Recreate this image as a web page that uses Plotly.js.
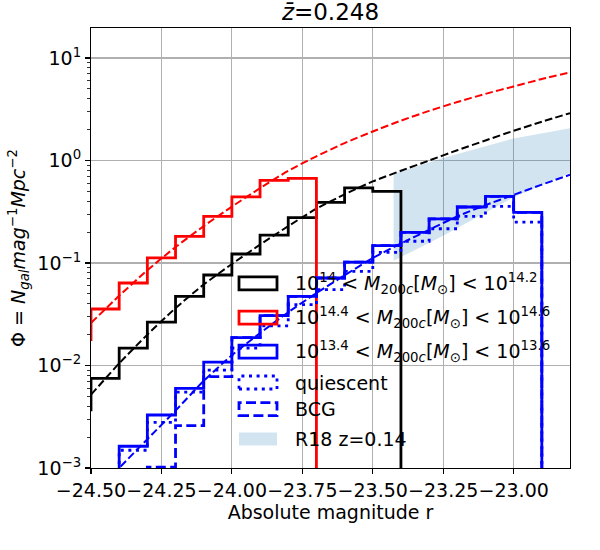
<!DOCTYPE html>
<html>
<head>
<meta charset="utf-8">
<script src="https://cdn.plot.ly/plotly-3.0.1.min.js"></script>
<style>body{margin:0;background:#fff}</style>
</head>
<body>
<div id="chart" style="width:600px;height:550px"></div>
<script>
// bin width of all histograms (mag)
const binWidth = 0.1;

// step histograms: left edge of first bin + one value per bin
const blackStart = -24.6;
const blackVals = [0.0037, 0.00748, 0.0148, 0.0265, 0.0472, 0.0764, 0.1225, 0.1875, 0.2767, 0.390, 0.540, 0.500];
const redStart = -24.6;
const redVals = [0.0179, 0.0356, 0.0638, 0.112, 0.182, 0.285, 0.441, 0.640, 0.669];
const blueStart = -24.4;
const blueVals = [0.00163, 0.00329, 0.00598, 0.0108, 0.0187, 0.0306, 0.0472, 0.0714, 0.102, 0.148, 0.199, 0.270, 0.352, 0.447, 0.312];
const quiesStart = -24.4;
const quiesVals = [0.00149, 0.00279, 0.0055, 0.00903, 0.0148, 0.0244, 0.0392, 0.055, 0.0828, 0.127, 0.163, 0.216, 0.285, 0.357, 0.251];
const bcgStart = -24.3;
const bcgVals = [0.00102, 0.00259, 0.0078, 0.0187, 0.0306, 0.0472, 0.0714, 0.102, 0.148, 0.199, 0.270, 0.352, 0.447, 0.312];

// fitted curves
const fitMag = [-24.5, -24.4, -24.3, -24.2, -24.1, -24.0, -23.9, -23.8, -23.7, -23.6, -23.5, -23.4, -23.3, -23.2, -23.1, -23.0, -22.9, -22.8];
const redFit = [0.0260, 0.0479, 0.0851, 0.143, 0.229, 0.355, 0.537, 0.794, 1.10, 1.48, 1.92, 2.45, 3.05, 3.72, 4.47, 5.28, 6.24, 7.24];
const blackFit = [0.00519, 0.0105, 0.0200, 0.0363, 0.0617, 0.0977, 0.151, 0.229, 0.339, 0.468, 0.625, 0.794, 1.00, 1.26, 1.57, 1.95, 2.39, 2.90];
const blueFit = [0.0005, 0.00100, 0.00191, 0.00363, 0.00708, 0.0126, 0.0207, 0.0331, 0.0509, 0.0759, 0.112, 0.155, 0.211, 0.285, 0.367, 0.463, 0.582, 0.726];

// R18 z=0.14 band
const bandMag = [-23.426, -23.25, -23.0, -22.8];
const bandHi = [0.743, 1.06, 1.64, 2.07];
const bandLo = [0.105, 0.185, 0.437, 0.759];

const xTicks = [-24.5, -24.25, -24.0, -23.75, -23.5, -23.25, -23.0];
const yTicks = [0.001, 0.01, 0.1, 1, 10];
const yTickText = ['10<sup>−3</sup>', '10<sup>−2</sup>', '10<sup>−1</sup>', '10<sup>0</sup>', '10<sup>1</sup>'];

const FLOOR = 1e-6;   // baseline of the step outline (below the axis)

function stepTrace(start, vals, color, dash) {
  const xs = [start], ys = [FLOOR];
  vals.forEach((v, i) => {
    xs.push(Math.round((start + i * binWidth) * 10) / 10);
    ys.push(v);
  });
  const end = Math.round((start + vals.length * binWidth) * 10) / 10;
  xs.push(end); ys.push(vals[vals.length - 1]);
  xs.push(end); ys.push(FLOOR);
  return {
    x: xs, y: ys, type: 'scatter', mode: 'lines',
    line: { shape: 'hv', color: color, width: 2.8, dash: dash || 'solid' },
    hoverinfo: 'skip'
  };
}

function fitTrace(vals, color) {
  return {
    x: fitMag, y: vals, type: 'scatter', mode: 'lines',
    line: { shape: 'spline', smoothing: 0.6, color: color, width: 2, dash: '7.7px,3.3px' },
    hoverinfo: 'skip'
  };
}

const band = {
  x: bandMag.concat(bandMag.slice().reverse()),
  y: bandHi.concat(bandLo.slice().reverse()),
  type: 'scatter', mode: 'lines', fill: 'toself',
  fillcolor: 'rgba(31,119,180,0.2)', line: { width: 0 }, hoverinfo: 'skip'
};

const traces = [
  band,
  stepTrace(blackStart, blackVals, '#000000'),
  fitTrace(blackFit, '#000000'),
  stepTrace(redStart, redVals, '#ff0000'),
  fitTrace(redFit, '#ff0000'),
  stepTrace(blueStart, blueVals, '#0000ff'),
  stepTrace(quiesStart, quiesVals, '#0000ff', '3px,4.6px'),
  stepTrace(bcgStart, bcgVals, '#0000ff', '10px,4.4px'),
  fitTrace(blueFit, '#0000ff')
];

// hand-made legend (matplotlib style patches), positions in pixels
const plotL = 91, plotR = 570, plotT = 28, plotB = 468;
const px = (x) => (x - plotL) / (plotR - plotL);
const py = (y) => (plotB - y) / (plotB - plotT);
const mLabel = (a, b) => '10<sup>' + a + '</sup> &lt; <i>M</i><sub>200<i>c</i></sub>[<i>M</i><sub>⊙</sub>] &lt; 10<sup>' + b + '</sup>';
const legendRows = [
  { text: mLabel('14', '14.2'), color: '#000000', dash: 'solid', cy: 283.3 },
  { text: mLabel('14.4', '14.6'), color: '#ff0000', dash: 'solid', cy: 317.7 },
  { text: mLabel('13.4', '13.6'), color: '#0000ff', dash: 'solid', cy: 351.7 },
  { text: 'quiescent', color: '#0000ff', dash: '3px,4.6px', cy: 382.5 },
  { text: 'BCG', color: '#0000ff', dash: '10px,4.4px', cy: 409.2 },
  { text: 'R18 z=0.14', fill: 'rgba(31,119,180,0.2)', cy: 439 }
];
const shapes = [], annotations = [];
legendRows.forEach(r => {
  shapes.push({
    type: 'rect', xref: 'paper', yref: 'paper',
    x0: px(239), x1: px(277), y0: py(r.cy + 6.5), y1: py(r.cy - 6.5),
    fillcolor: r.fill || 'rgba(0,0,0,0)',
    line: r.fill ? { width: 0 } : { color: r.color, width: 2.8, dash: r.dash }
  });
  annotations.push({
    xref: 'paper', yref: 'paper', x: px(293), y: py(r.cy),
    xanchor: 'left', yanchor: 'middle', showarrow: false, text: r.text,
    font: { family: 'DejaVu Sans', size: 19, color: '#000' }
  });
});

const minorY = [];
[0.001, 0.01, 0.1, 1].forEach(d => { for (let k = 2; k <= 9; k++) minorY.push(d * k); });

const layout = {
  width: 600, height: 550,
  margin: { l: plotL, r: 600 - plotR, t: plotT, b: 550 - plotB },
  paper_bgcolor: '#fff', plot_bgcolor: '#fff',
  font: { family: 'DejaVu Sans', size: 19, color: '#000' },
  showlegend: false,
  title: {
    text: '<i>z̄</i>=0.248', font: { size: 23 },
    x: 0.5, xref: 'paper', y: 1 - 12 / 550, yref: 'container', yanchor: 'middle'
  },
  xaxis: {
    range: [-24.5, -22.8], tickvals: xTicks, tickformat: '.2f', tickangle: 0,
    ticks: 'outside', ticklen: 5, tickwidth: 1.1, tickcolor: '#000',
    showline: true, linecolor: '#000', linewidth: 1.1, mirror: true,
    showgrid: true, gridcolor: '#b0b0b0', gridwidth: 1.1, zeroline: false,
    title: { text: 'Absolute magnitude r', font: { size: 19 }, standoff: 2 }
  },
  yaxis: {
    type: 'log', range: [-3, 1.293], tickvals: yTicks, ticktext: yTickText,
    ticks: 'outside', ticklen: 5, tickwidth: 1.1, tickcolor: '#000',
    minor: { tickvals: minorY, ticks: 'outside', ticklen: 2.8, tickwidth: 0.8, tickcolor: '#000', showgrid: false },
    showline: true, linecolor: '#000', linewidth: 1.1, mirror: true,
    showgrid: true, gridcolor: '#b0b0b0', gridwidth: 1.1, zeroline: false,
    title: { text: 'Φ = <i>N</i><sub><i>gal</i></sub><i>mag</i><sup>−1</sup><i>Mpc</i><sup>−2</sup>', font: { size: 19 }, standoff: 6 }
  },
  shapes: shapes,
  annotations: annotations
};

Plotly.newPlot('chart', traces, layout, { staticPlot: true });
</script>
</body>
</html>
